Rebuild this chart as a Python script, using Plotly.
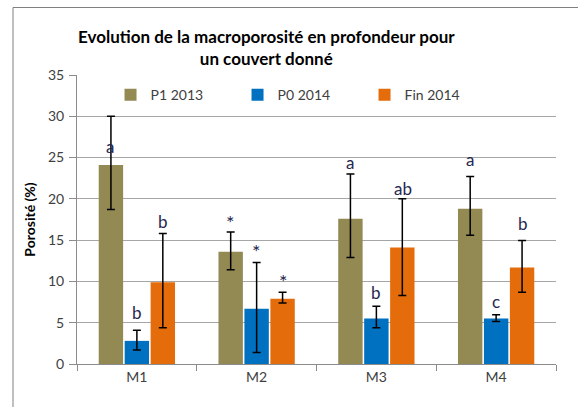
import plotly.graph_objects as go

categories = ["M1", "M2", "M3", "M4"]
series_names = ["P1 2013", "P0 2014", "Fin 2014"]

p1_2013 = [24.1, 13.6, 17.6, 18.8]
p1_err_plus = [5.9, 2.4, 5.4, 3.9]
p1_err_minus = [5.4, 2.2, 4.7, 3.2]

p0_2014 = [2.8, 6.7, 5.5, 5.5]
p0_err_plus = [1.3, 5.6, 1.5, 0.45]
p0_err_minus = [1.1, 5.3, 1.1, 0.35]

fin_2014 = [9.9, 7.9, 14.1, 11.7]
fin_err_plus = [5.9, 0.8, 5.9, 3.25]
fin_err_minus = [5.5, 0.5, 5.8, 3.0]

p1_letters = ["a", "*", "a", "a"]
p0_letters = ["b", "*", "b", "c"]
fin_letters = ["b", "*", "ab", "b"]

y_ticks = [0, 5, 10, 15, 20, 25, 30, 35]

colors = ["#938953", "#0070C0", "#E46C0A"]
FONT = "Lato, 'Open Sans', sans-serif"

fig = go.Figure()
series = [
    (p1_2013, p1_err_plus, p1_err_minus),
    (p0_2014, p0_err_plus, p0_err_minus),
    (fin_2014, fin_err_plus, fin_err_minus),
]
for name, (vals, ep, em), col in zip(series_names, series, colors):
    fig.add_trace(go.Bar(
        x=categories, y=vals, name=name,
        marker=dict(color=col, line=dict(width=0)),
        error_y=dict(type="data", array=ep, arrayminus=em, symmetric=False,
                     color="black", thickness=1.5, width=4),
    ))

# letter labels placed above the bars (label centre heights, data units)
label_y = [
    [26.4, 17.2, 24.4, 24.8],
    [6.2, 13.7, 8.7, 7.6],
    [17.3, 10.0, 21.3, 17.0],
]
letters = [p1_letters, p0_letters, fin_letters]
xshifts = [-26.5, 0, 26.5]
for si in range(3):
    for ci, cat in enumerate(categories):
        txt = letters[si][ci]
        fig.add_annotation(
            x=cat, y=label_y[si][ci], xref="x", yref="y",
            text=txt, showarrow=False, xshift=xshifts[si],
            yanchor="middle",
            font=dict(family=FONT, size=20 if txt == "*" else 17, color="#262650"),
        )

# title
fig.add_annotation(
    x=(266 - 77) / 479, y=(364 - 48) / 289, xref="paper", yref="paper",
    text="<b>Evolution de la macroporosité en profondeur pour<br>un couvert donné</b>",
    showarrow=False, xanchor="center", yanchor="middle", align="center",
    font=dict(family=FONT, size=17, color="#000000"),
)

# chart-area frame (left and top edges visible in the picture)
fx0, fy1 = (13 - 77) / 479, (364 - 7.5) / 289
fig.add_shape(type="line", xref="paper", yref="paper",
              x0=fx0, x1=fx0, y0=-0.3, y1=fy1,
              line=dict(color="#808080", width=1), layer="below")
fig.add_shape(type="line", xref="paper", yref="paper",
              x0=fx0, x1=1.2, y0=fy1, y1=fy1,
              line=dict(color="#808080", width=1), layer="below")

fig.update_layout(
    width=578, height=407,
    margin=dict(l=77, r=22, t=75, b=43, autoexpand=False),
    paper_bgcolor="white", plot_bgcolor="white",
    barmode="group", bargap=0.35, bargroupgap=0.06,
    font=dict(family=FONT, size=14, color="#404040"),
    showlegend=True,
    legend=dict(orientation="h", x=0.07, y=0.93, xanchor="left", yanchor="middle",
                entrywidth=82, entrywidthmode="pixels",
                font=dict(family=FONT, size=14, color="#404040"),
                bgcolor="rgba(0,0,0,0)", itemwidth=30),
)
fig.update_xaxes(
    showline=True, linecolor="#8c8c8c", linewidth=1,
    ticks="outside", tickson="boundaries", ticklen=6, tickcolor="#8c8c8c",
    tickfont=dict(family=FONT, size=14, color="#404040"),
    showgrid=False,
)
fig.update_yaxes(
    range=[0, 35], tickvals=y_ticks,
    showline=True, linecolor="#8c8c8c", linewidth=1,
    ticks="outside", ticklen=7, tickcolor="#8c8c8c",
    ticklabelstandoff=2,
    showgrid=True, gridcolor="#a6a6a6", gridwidth=1,
    tickfont=dict(family=FONT, size=14, color="#404040"),
    title=dict(text="<b>Porosité (%)</b>", standoff=9,
               font=dict(family=FONT, size=14, color="#000000")),
    zeroline=False,
)

fig.write_html("out.html", config={"displayModeBar": False},
               post_script="document.body.style.margin='0px';document.body.style.overflow='hidden';")
